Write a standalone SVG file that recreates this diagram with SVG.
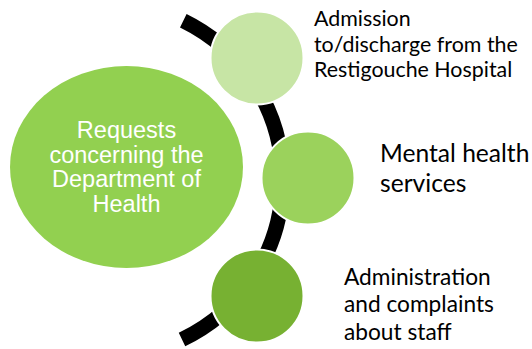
<svg xmlns="http://www.w3.org/2000/svg" width="532" height="349" viewBox="0 0 532 349">
<style>
.arc{fill:none;stroke:#000;stroke-width:15;stroke-linecap:butt}
.node{stroke:#fff;stroke-width:2}
.main{font-family:"Liberation Sans",Arial,sans-serif;font-size:23.5px;fill:#fff;text-anchor:middle}
.lbl{font-family:Lato,"Open Sans",sans-serif;fill:#000}
</style>
<rect width="532" height="349" fill="#fff"/>
<g id="connectors">
<path class="arc" d="M 183.3 20.8 A 177 177 0 0 1 182 339.5"/>
</g>
<g id="main">
<ellipse cx="126.5" cy="167" rx="116.5" ry="101" fill="#92D050"/>
<text class="main"><tspan x="126.5" y="138.3">Requests</tspan><tspan x="126.5" y="162.7">concerning the</tspan><tspan x="126.5" y="187">Department of</tspan><tspan x="126.5" y="211.5">Health</tspan></text>
</g>
<g id="node1">
<circle class="node" cx="257" cy="58" r="46.5" fill="#C7E5A5"/>
<text class="lbl" font-size="21.4"><tspan x="314" y="25.7">Admission</tspan><tspan x="314" y="51.7">to/discharge from the</tspan><tspan x="314" y="77.3">Restigouche Hospital</tspan></text>
</g>
<g id="node2">
<circle class="node" cx="308" cy="178" r="46.5" fill="#9BD25C"/>
<text class="lbl" font-size="24.6"><tspan x="380" y="162">Mental health</tspan><tspan x="380" y="191.5">services</tspan></text>
</g>
<g id="node3">
<circle class="node" cx="257" cy="296" r="46.5" fill="#77B132"/>
<text class="lbl" font-size="22.7" lengthAdjust="spacingAndGlyphs"><tspan x="344" y="285">Administration</tspan><tspan x="344" y="312.3">and complaints</tspan><tspan x="344" y="339.6">about staff</tspan></text>
</g>
</svg>
